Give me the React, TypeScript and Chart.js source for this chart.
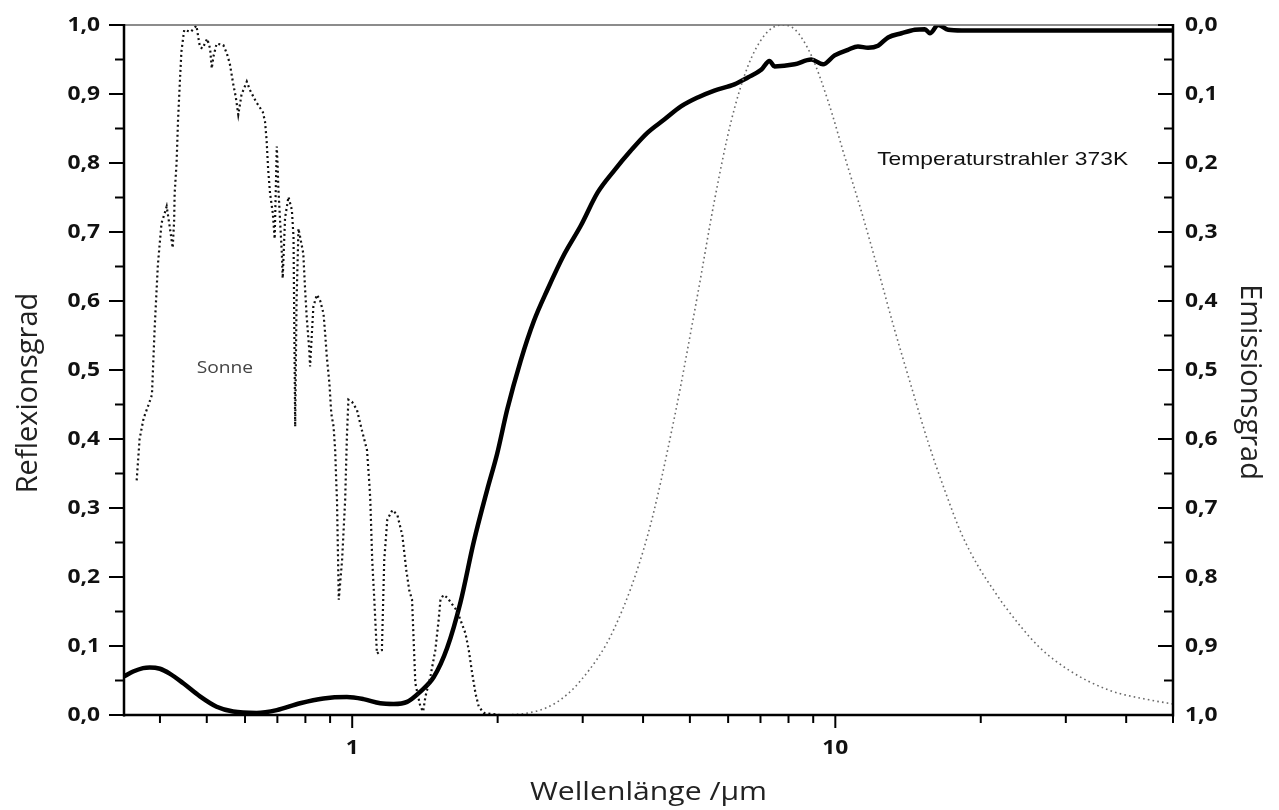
import React, { useEffect, useRef } from "react";
import { Chart, registerables } from "chart.js";

Chart.register(...registerables);

// ---- Data (wavelength in µm, normalised values 0..1) ----
const sunWavelength = [
  0.358, 0.363, 0.37, 0.379, 0.385, 0.39, 0.396, 0.403, 0.409, 0.413, 0.419, 0.425, 0.428, 0.429, 0.433, 0.436,
  0.44, 0.443, 0.449, 0.463, 0.476, 0.48, 0.484, 0.49, 0.501, 0.508, 0.512, 0.516, 0.524, 0.541, 0.55, 0.558,
  0.567, 0.574, 0.581, 0.59, 0.605, 0.614, 0.632, 0.653, 0.66, 0.665, 0.67, 0.676, 0.685, 0.691, 0.698, 0.701,
  0.703, 0.709, 0.715, 0.718, 0.726, 0.738, 0.75, 0.756, 0.758, 0.762, 0.767, 0.774, 0.78, 0.792, 0.799, 0.805,
  0.815, 0.818, 0.831, 0.845, 0.858, 0.872, 0.879, 0.886, 0.897, 0.905, 0.915, 0.922, 0.927, 0.93, 0.938, 0.953,
  0.967, 0.975, 0.982, 0.999, 1.023, 1.047, 1.073, 1.085, 1.09, 1.1, 1.111, 1.125, 1.152, 1.165, 1.182, 1.211,
  1.24, 1.27, 1.294, 1.313, 1.33, 1.351, 1.384, 1.402, 1.418, 1.451, 1.486, 1.51, 1.523, 1.545, 1.574, 1.612,
  1.644, 1.675, 1.716, 1.743, 1.771, 1.8, 1.828, 1.873, 2.028,
];
const sunIntensity = [
  0.34, 0.4, 0.43, 0.45, 0.464, 0.56, 0.652, 0.713, 0.727, 0.737, 0.708, 0.677, 0.717, 0.756, 0.8, 0.862,
  0.92, 0.961, 0.993, 0.99, 0.999, 0.983, 0.968, 0.966, 0.98, 0.966, 0.937, 0.954, 0.973, 0.971, 0.959, 0.944,
  0.915, 0.896, 0.87, 0.899, 0.918, 0.906, 0.889, 0.874, 0.86, 0.833, 0.79, 0.756, 0.727, 0.69, 0.824, 0.795,
  0.766, 0.717, 0.67, 0.633, 0.72, 0.751, 0.732, 0.693, 0.6, 0.418, 0.6, 0.705, 0.693, 0.669, 0.616, 0.577,
  0.529, 0.505, 0.592, 0.609, 0.601, 0.582, 0.553, 0.519, 0.481, 0.437, 0.418, 0.384, 0.336, 0.312, 0.167, 0.225,
  0.312, 0.403, 0.457, 0.454, 0.442, 0.413, 0.384, 0.336, 0.312, 0.225, 0.167, 0.089, 0.094, 0.225, 0.283, 0.297,
  0.29, 0.26, 0.21, 0.18, 0.167, 0.046, 0.012, 0.005, 0.027, 0.055, 0.094, 0.138, 0.167, 0.174, 0.17, 0.16,
  0.152, 0.138, 0.118, 0.094, 0.061, 0.031, 0.012, 0.003, 0.0,
];

const reflWavelength = [
  0.337, 0.352, 0.369, 0.381, 0.4, 0.419, 0.447, 0.484, 0.524, 0.567, 0.634, 0.698, 0.78, 0.872, 0.975, 1.055,
  1.143, 1.218, 1.299, 1.384, 1.475, 1.572, 1.675, 1.785, 1.904, 1.996, 2.094, 2.231, 2.377, 2.534, 2.744, 2.972,
  3.22, 3.485, 3.774, 4.087, 4.425, 4.792, 5.19, 5.619, 6.181, 6.59, 7.023, 7.307, 7.484, 8.234, 8.917, 9.43,
  9.966, 10.62, 11.14, 11.69, 12.26, 12.86, 13.71, 14.61, 15.32, 15.69, 16.33, 17.13, 18.26, 50,
];
const reflectance = [
  0.056, 0.063, 0.068, 0.069, 0.067, 0.06, 0.046, 0.027, 0.012, 0.005, 0.003, 0.007, 0.017, 0.024, 0.026, 0.023,
  0.017, 0.016, 0.019, 0.034, 0.055, 0.097, 0.163, 0.251, 0.327, 0.379, 0.443, 0.513, 0.571, 0.616, 0.667, 0.709,
  0.757, 0.789, 0.818, 0.844, 0.863, 0.882, 0.895, 0.905, 0.914, 0.924, 0.935, 0.948, 0.94, 0.943, 0.95, 0.943,
  0.956, 0.964, 0.969, 0.967, 0.97, 0.982, 0.988, 0.993, 0.994, 0.988, 1.0, 0.993, 0.992, 0.992,
];

const bbWavelength = [
  2.0, 2.267, 2.616, 2.972, 3.485, 4.087, 4.641, 5.19, 5.619, 6.084, 6.59, 7.134, 7.727, 8.234, 8.917, 9.658,
  10.45, 11.32, 12.26, 13.27, 14.38, 15.57, 16.86, 18.26, 19.78, 21.41, 22.41, 26.38, 30.44, 36.85, 44.6, 50,
];
const bbIntensity = [
  0.0, 0.002, 0.016, 0.05, 0.125, 0.26, 0.43, 0.61, 0.745, 0.86, 0.94, 0.985, 1.0, 0.994, 0.956, 0.89,
  0.81, 0.73, 0.645, 0.558, 0.475, 0.395, 0.325, 0.262, 0.215, 0.178, 0.158, 0.099, 0.065, 0.036, 0.022, 0.016,
];

const yTickValues = [0, 0.1, 0.2, 0.3, 0.4, 0.5, 0.6, 0.7, 0.8, 0.9, 1.0];
const yTickLabels = ["0,0", "0,1", "0,2", "0,3", "0,4", "0,5", "0,6", "0,7", "0,8", "0,9", "1,0"];
const yMinorValues = [0.05, 0.15, 0.25, 0.35, 0.45, 0.55, 0.65, 0.75, 0.85, 0.95];
const xMajorValues = [1, 10];
const xTickLabels = ["1", "10"];
const xMinorValues = [0.4, 0.5, 0.6, 0.7, 0.8, 0.9, 2, 3, 4, 5, 6, 7, 8, 9, 20, 30, 40, 50];

const xTitle = "Wellenlänge /µm";
const yTitle = "Reflexionsgrad";
const y2Title = "Emissionsgrad";
const sunLabel = "Sonne";
const bbLabel = "Temperaturstrahler 373K";

const toXY = (xs: number[], ys: number[]) => xs.map((x, i) => ({ x, y: ys[i] }));

const SX = 1.2;

function stretchedText(
  ctx: CanvasRenderingContext2D,
  text: string,
  x: number,
  y: number,
  align: CanvasTextAlign,
  sx: number,
  rot = 0
) {
  ctx.save();
  ctx.translate(x, y);
  if (rot) ctx.rotate(rot);
  ctx.scale(sx, 1);
  ctx.textAlign = align;
  ctx.fillText(text, 0, 0);
  ctx.restore();
}

const framePlugin = {
  id: "frame",
  afterDraw(chart: any) {
    const { ctx, chartArea: a, scales } = chart;
    const xs = scales.x;
    const ys = scales.y;
    const ys2 = scales.y2;
    const line = (x1: number, y1: number, x2: number, y2: number) => {
      ctx.beginPath();
      ctx.moveTo(x1, y1);
      ctx.lineTo(x2, y2);
      ctx.stroke();
    };
    ctx.save();
    // top frame line
    ctx.strokeStyle = "#666";
    ctx.lineWidth = 1.3;
    line(a.left, a.top, a.right, a.top);
    // axes
    ctx.strokeStyle = "#000";
    ctx.lineWidth = 2.5;
    line(a.left, a.top - 1, a.left, a.bottom + 1.5);
    line(a.left - 1, a.bottom, a.right + 1, a.bottom);
    line(a.right, a.top - 1, a.right, a.bottom + 1.5);

    ctx.lineWidth = 2;
    // left ticks (outward)
    yTickValues.forEach((v) => {
      const p = ys.getPixelForValue(v);
      line(a.left - 15, p, a.left, p);
    });
    yMinorValues.forEach((v) => {
      const p = ys.getPixelForValue(v);
      line(a.left - 9, p, a.left, p);
    });
    // right ticks (inward)
    yTickValues.forEach((v) => {
      const p = ys2.getPixelForValue(v);
      line(a.right - 15, p, a.right, p);
    });
    yMinorValues.forEach((v) => {
      const p = ys2.getPixelForValue(v);
      line(a.right - 9, p, a.right, p);
    });
    // bottom ticks (outward)
    xMinorValues.forEach((v) => {
      const p = xs.getPixelForValue(v);
      line(p, a.bottom, p, a.bottom + 8);
    });
    xMajorValues.forEach((v) => {
      const p = xs.getPixelForValue(v);
      line(p, a.bottom, p, a.bottom + 13);
    });

    // tick labels
    ctx.fillStyle = "#111";
    ctx.font = 'bold 19px "Open Sans"';
    ctx.textBaseline = "middle";
    yTickValues.forEach((v, i) => {
      stretchedText(ctx, yTickLabels[i], a.left - 24, ys.getPixelForValue(v) + 1, "right", SX);
      stretchedText(ctx, yTickLabels[i], a.right + 12, ys2.getPixelForValue(v) + 1, "left", SX);
    });
    xMajorValues.forEach((v, i) => {
      stretchedText(ctx, xTickLabels[i], xs.getPixelForValue(v), a.bottom + 34, "center", SX);
    });

    // axis titles
    ctx.fillStyle = "#222";
    ctx.textBaseline = "middle";
    ctx.font = '26px "Open Sans"';
    stretchedText(ctx, xTitle, (a.left + a.right) / 2, a.bottom + 78, "center", 1.16);
    ctx.font = '29px "Open Sans"';
    stretchedText(ctx, yTitle, 29, (a.top + a.bottom) / 2 + 23, "center", 1, -Math.PI / 2);
    stretchedText(ctx, y2Title, 1249, (a.top + a.bottom) / 2 + 12, "center", 1, Math.PI / 2);

    // curve annotations
    ctx.fillStyle = "#444";
    ctx.font = '16px "Open Sans"';
    ctx.textBaseline = "alphabetic";
    stretchedText(ctx, sunLabel, xs.getPixelForValue(0.545), ys.getPixelForValue(0.496), "center", SX);
    ctx.fillStyle = "#111";
    ctx.font = '19px "Liberation Sans"';
    stretchedText(ctx, bbLabel, xs.getPixelForValue(22.2), ys.getPixelForValue(0.797), "center", SX);
    ctx.restore();
  },
};

export default function App() {
  const canvasRef = useRef<HTMLCanvasElement | null>(null);

  useEffect(() => {
    const canvas = canvasRef.current;
    if (!canvas) return;
    const chart = new Chart(canvas, {
      type: "line",
      data: {
        datasets: [
          {
            label: "Sonne",
            data: toXY(sunWavelength, sunIntensity),
            borderColor: "#111",
            borderWidth: 2.2,
            borderDash: [2, 3],
            pointRadius: 0,
            tension: 0,
            fill: false,
          },
          {
            label: "Temperaturstrahler 373K",
            data: toXY(bbWavelength, bbIntensity),
            borderColor: "#6a6a6a",
            borderWidth: 1.6,
            borderDash: [1.6, 3.2],
            pointRadius: 0,
            cubicInterpolationMode: "monotone",
            fill: false,
          },
          {
            label: "Reflexionsgrad",
            data: toXY(reflWavelength, reflectance),
            borderColor: "#000",
            borderWidth: 4.5,
            pointRadius: 0,
            cubicInterpolationMode: "monotone",
            fill: false,
          },
        ],
      },
      options: {
        responsive: false,
        animation: false,
        parsing: true,
        events: [],
        layout: { padding: { top: 25, left: 0, right: 0, bottom: 0 } },
        plugins: { legend: { display: false }, tooltip: { enabled: false }, title: { display: false } },
        scales: {
          x: {
            type: "logarithmic",
            bounds: "data",
            min: 0.337,
            max: 50,
            grid: { display: false },
            border: { display: false },
            ticks: { display: false },
            afterFit: (s: any) => {
              s.height = 95;
            },
          },
          y: {
            type: "linear",
            position: "left",
            min: 0,
            max: 1,
            grid: { display: false },
            border: { display: false },
            ticks: { display: false, stepSize: 0.1 },
            afterFit: (s: any) => {
              s.width = 124;
            },
          },
          y2: {
            type: "linear",
            position: "right",
            min: 0,
            max: 1,
            reverse: true,
            grid: { display: false },
            border: { display: false },
            ticks: { display: false, stepSize: 0.1 },
            afterFit: (s: any) => {
              s.width = 106;
            },
          },
        },
      },
      plugins: [framePlugin],
    } as any);
    return () => chart.destroy();
  }, []);

  return (
    <div style={{ position: "absolute", left: 0, top: 0, width: 1279, height: 810, background: "#fff" }}>
      <canvas ref={canvasRef} width={1279} height={810} style={{ display: "block" }} />
    </div>
  );
}
